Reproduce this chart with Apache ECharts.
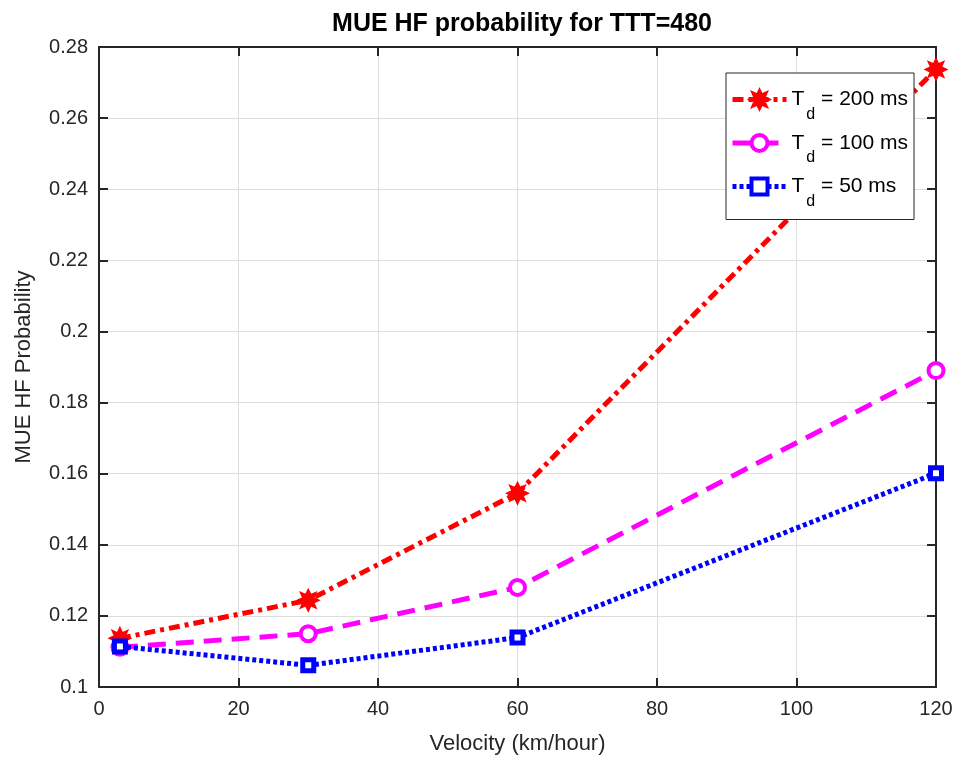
<!DOCTYPE html>
<html>
<head>
<meta charset="utf-8">
<script src="https://cdn.jsdelivr.net/npm/echarts@6/dist/echarts.min.js"></script>
<style>
html,body{margin:0;padding:0;background:#fff;}
#main{width:961px;height:778px;}
</style>
</head>
<body>
<div id="main"></div>
<script type="text/javascript">
// data
var velocity = [3, 30, 60, 120];
var td200 = [0.1137, 0.1244, 0.1545, 0.2737];
var td100 = [0.1112, 0.1150, 0.1280, 0.1890];
var td50  = [0.1114, 0.1061, 0.1139, 0.1601];
var seriesNames = ['200', '100', '50'];

function pairs(xs, ys){
    return xs.map(function(x, i){ return [x, ys[i]]; });
}

// chunky burst, stands in for matlab's '*' marker drawn thick
var star = 'path://M50,0 L62,25 L85,15 L75,38 L100,50 L75,62 L85,85 L62,75 L50,100 L38,75 L15,85 L25,62 L0,50 L25,38 L15,15 L38,25 Z';

var chart = echarts.init(document.getElementById('main'));
var axisCol = '#262626';
var lab = {color: axisCol, fontSize: 20, fontFamily: 'Liberation Sans, Arial'};

var option = {
    backgroundColor: '#fff',
    animation: false,
    title: {
        text: 'MUE HF probability for TTT=480',
        left: 517, top: 7, textAlign: 'center',
        textStyle: {fontSize: 25, fontWeight: 'bold', color: '#000', fontFamily: 'Liberation Sans, Arial'}
    },
    grid: {left: 99, top: 47, right: 25, bottom: 91},
    legend: {
        orient: 'vertical',
        left: 726, top: 73,
        width: 184, height: 139,
        padding: [16, 6, 10, 4],
        itemGap: 10,
        itemWidth: 54, itemHeight: 20,
        backgroundColor: '#fff',
        borderColor: '#262626', borderWidth: 1,
        z: 20,
        lineStyle: {width: 5},
        itemStyle: {borderWidth: 4},
        data: seriesNames,
        formatter: function(n){ return '{t|T}{d|d}{t| = ' + n + ' ms}'; },
        textStyle: {
            color: '#000',
            rich: {
                t: {fontSize: 21, fontFamily: 'Liberation Sans, Arial', color: '#000'},
                d: {fontSize: 16, fontFamily: 'Liberation Sans, Arial', color: '#000', verticalAlign: 'top', padding: [30, 0, 0, 2]}
            }
        }
    },
    xAxis: [{
        type: 'value', min: 0, max: 120, interval: 20,
        name: 'Velocity (km/hour)', nameLocation: 'middle', nameGap: 46,
        nameTextStyle: {color: axisCol, fontSize: 22, fontFamily: 'Liberation Sans, Arial'},
        axisLine: {onZero: false, lineStyle: {color: axisCol, width: 2}},
        axisTick: {inside: true, length: 9, lineStyle: {color: axisCol, width: 2}},
        axisLabel: Object.assign({margin: 12}, lab),
        splitLine: {show: true, lineStyle: {color: '#dedede', width: 1}}
    }, {
        type: 'value', min: 0, max: 120, interval: 20, position: 'top',
        axisLine: {onZero: false, lineStyle: {color: axisCol, width: 2}},
        axisTick: {inside: true, length: 9, lineStyle: {color: axisCol, width: 2}},
        axisLabel: {show: false}, splitLine: {show: false}
    }],
    yAxis: [{
        type: 'value', min: 0.1, max: 0.28, interval: 0.02,
        name: 'MUE HF Probability', nameLocation: 'middle', nameGap: 64, nameRotate: 90,
        nameTextStyle: {color: axisCol, fontSize: 22, fontFamily: 'Liberation Sans, Arial'},
        axisLine: {onZero: false, lineStyle: {color: axisCol, width: 2}},
        axisTick: {inside: true, length: 9, lineStyle: {color: axisCol, width: 2}},
        axisLabel: Object.assign({margin: 11, formatter: function(v){ return String(+v.toFixed(2)); }}, lab),
        splitLine: {show: true, lineStyle: {color: '#dedede', width: 1}}
    }, {
        type: 'value', min: 0.1, max: 0.28, interval: 0.02, position: 'right',
        axisLine: {onZero: false, lineStyle: {color: axisCol, width: 2}},
        axisTick: {inside: true, length: 9, lineStyle: {color: axisCol, width: 2}},
        axisLabel: {show: false}, splitLine: {show: false}
    }],
    series: [
        {
            name: '200', type: 'line', data: pairs(velocity, td200),
            symbol: star, symbolSize: 18,
            lineStyle: {color: '#ff0000', width: 5, type: [11, 5, 4, 5]},
            itemStyle: {color: '#ff0000', borderColor: '#ff0000', borderWidth: 3},
            z: 4
        },
        {
            name: '100', type: 'line', data: pairs(velocity, td100),
            symbol: 'circle', symbolSize: 15,
            lineStyle: {color: '#ff00ff', width: 5, type: [18, 10]},
            itemStyle: {color: '#fff', borderColor: '#ff00ff', borderWidth: 4},
            z: 3
        },
        {
            name: '50', type: 'line', data: pairs(velocity, td50),
            symbol: 'rect', symbolSize: 11,
            lineStyle: {color: '#0000ff', width: 5, type: [4, 3]},
            itemStyle: {color: '#fff', borderColor: '#0000ff', borderWidth: 5},
            z: 5
        }
    ]
};
chart.setOption(option);
window.onresize = chart.resize;
</script>
</body>
</html>
